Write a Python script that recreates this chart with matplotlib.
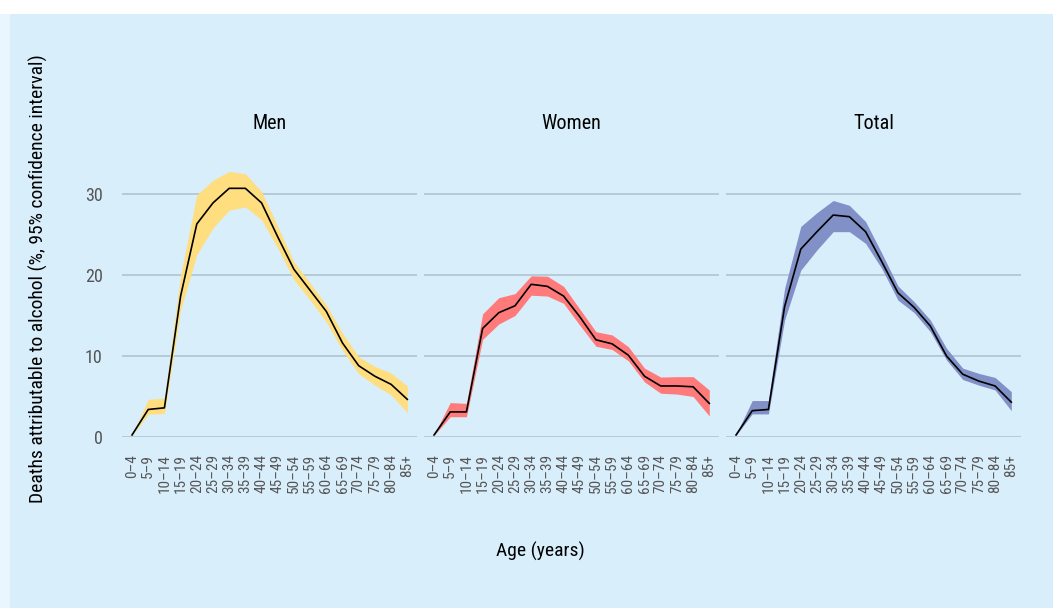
import matplotlib
matplotlib.use("Agg")
import matplotlib.pyplot as plt
from matplotlib import font_manager
from matplotlib.patches import Rectangle
import numpy as np

# ---------------- data ----------------
age_groups = ["0–4", "5–9", "10–14", "15–19", "20–24", "25–29", "30–34", "35–39",
              "40–44", "45–49", "50–54", "55–59", "60–64", "65–69", "70–74",
              "75–79", "80–84", "85+"]

panel_titles = ["Men", "Women", "Total"]

men_mid = [0.25, 3.4, 3.6, 17.4, 26.3, 28.9, 30.7, 30.7, 28.9, 24.7, 20.7, 18.1,
           15.5, 11.6, 8.8, 7.5, 6.5, 4.65]
men_upper = [0.3, 4.65, 4.8, 20.0, 29.9, 31.7, 32.8, 32.5, 30.3, 26.0, 21.6, 19.0,
             16.3, 12.8, 9.9, 8.7, 7.9, 6.3]
men_lower = [0.2, 2.8, 2.9, 15.7, 22.5, 25.8, 28.0, 28.4, 26.8, 23.3, 19.4, 16.9,
             14.2, 10.7, 7.8, 6.4, 5.2, 3.0]

women_mid = [0.25, 3.1, 3.1, 13.4, 15.35, 16.2, 18.85, 18.6, 17.4, 14.85, 12.0, 11.5,
             10.1, 7.5, 6.3, 6.3, 6.2, 4.15]
women_upper = [0.3, 4.25, 4.15, 15.2, 17.2, 17.7, 19.9, 19.85, 18.6, 15.8, 13.0, 12.6,
               11.15, 8.5, 7.4, 7.45, 7.45, 5.8]
women_lower = [0.2, 2.5, 2.5, 12.05, 13.95, 15.0, 17.5, 17.4, 16.5, 13.8, 11.2, 10.8,
               9.4, 6.8, 5.4, 5.3, 5.0, 2.6]

total_mid = [0.25, 3.25, 3.4, 16.1, 23.2, 25.35, 27.4, 27.2, 25.35, 21.65, 17.8, 16.0,
             13.7, 10.0, 7.75, 6.9, 6.3, 4.3]
total_upper = [0.3, 4.5, 4.5, 18.35, 26.0, 27.7, 29.2, 28.6, 26.6, 22.7, 18.65, 16.7,
               14.45, 10.95, 8.5, 7.85, 7.35, 5.6]
total_lower = [0.2, 2.85, 2.85, 14.45, 20.6, 23.1, 25.35, 25.35, 23.9, 20.8, 16.9, 15.35,
               13.0, 9.5, 7.1, 6.4, 5.8, 3.25]

y_ticks = [0, 10, 20, 30]

# ---------------- style ----------------
names = {f.name for f in font_manager.fontManager.ttflist}
family = "DejaVu Sans"
for cand in ["Liberation Sans Narrow", "Roboto Condensed", "Open Sans Condensed",
             "Noto Sans", "Liberation Sans"]:
    if cand in names:
        family = cand
        break
plt.rcParams["font.family"] = [family, "DejaVu Sans"]

BG = "#D9EEFB"
GRID = "#B3C7D4"
fills = ["#FFDE80", "#FF7B7B", "#8190C7"]

W, H = 1053, 608
fig = plt.figure(figsize=(W / 100, H / 100), dpi=100, facecolor=BG)
fig.patches.append(Rectangle((0, 1 - 14 / H), 1, 14 / H, transform=fig.transFigure,
                             facecolor="white", edgecolor="none", zorder=-10))
fig.patches.append(Rectangle((0, 0), 10 / W, 1 - 14 / H, transform=fig.transFigure,
                             facecolor="#EAF6FD", edgecolor="none", zorder=-10))

series = [(men_mid, men_lower, men_upper),
          (women_mid, women_lower, women_upper),
          (total_mid, total_lower, total_upper)]

lefts_px = [122, 424, 726]
width_px = 295
ymax = 36
bottom_px = 437
top_px = bottom_px - ymax * 8.1

x = np.arange(len(age_groups))
for i, (title, (mid, lo, hi)) in enumerate(zip(panel_titles, series)):
    ax = fig.add_axes([lefts_px[i] / W, 1 - bottom_px / H, width_px / W,
                       (bottom_px - top_px) / H])
    ax.set_facecolor(BG)
    ax.fill_between(x, lo, hi, color=fills[i], lw=0, zorder=2)
    ax.plot(x, mid, color="black", lw=1.2, zorder=3)
    ax.set_xlim(-0.62, len(age_groups) - 1 + 0.6)
    ax.set_ylim(0, ymax)
    ax.set_yticks(y_ticks)
    ax.grid(axis="y", color=GRID, lw=1.3, zorder=1)
    ax.set_axisbelow(True)
    for s in ax.spines.values():
        s.set_visible(False)
    ax.set_xticks(x)
    ax.set_xticklabels(age_groups, rotation=90, fontsize=11, color="#555555",
                       va="top", ha="center")
    ax.tick_params(axis="x", length=0, pad=12)
    ax.tick_params(axis="y", length=0, pad=14, labelsize=13, labelcolor="#555555")
    if i > 0:
        ax.set_yticklabels([])
    ax.set_title(title, fontsize=14.5, color="black", pad=12)

fig.text(38 / W, 1 - 279 / H,
         "Deaths attributable to alcohol (%, 95% confidence interval)",
         rotation=90, ha="center", va="center", fontsize=14, color="black")
fig.text(540 / W, 1 - 551 / H, "Age (years)", ha="center", va="center",
         fontsize=14, color="black")

fig.savefig("out.png", dpi=100, facecolor=BG)
